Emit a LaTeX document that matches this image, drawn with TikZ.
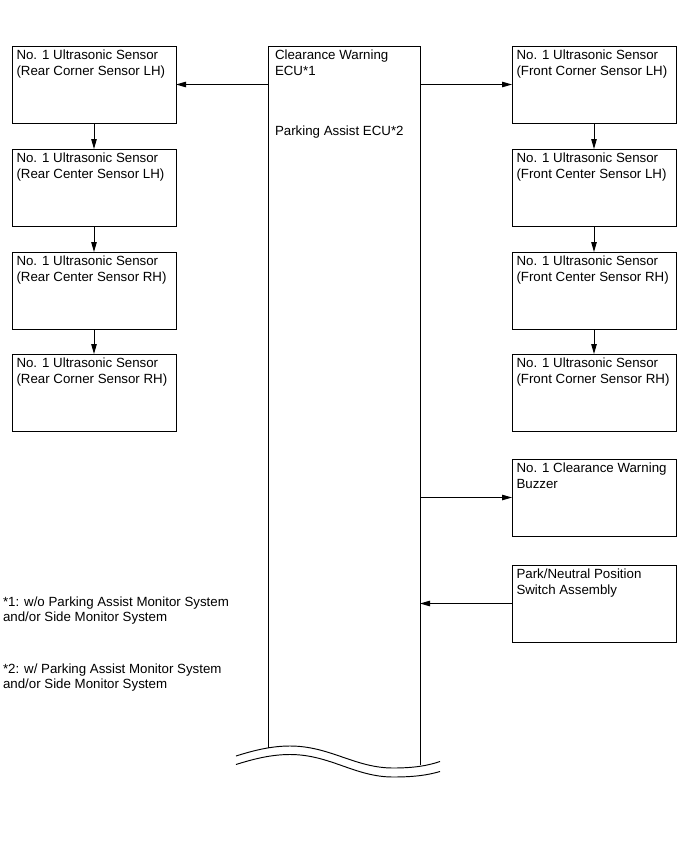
\documentclass[tikz,border=0pt]{standalone}
\usepackage{fontspec}
\setmainfont{Liberation Sans}
\usetikzlibrary{arrows.meta}
\begin{document}
\begin{tikzpicture}[x=1pt,y=-1pt,
  every node/.style={outer sep=0pt},
  txt/.style={font=\fontsize{13.3}{15.7}\selectfont, align=left, inner sep=0pt, anchor=north west},
  unit/.style={draw, line width=0.95pt, minimum width=164pt, minimum height=77pt,
    anchor=north west, inner sep=0pt,
    label={[txt, anchor=north west, inner xsep=4.5pt, inner ysep=4pt]north west:{#1}}},
  link/.style={line width=0.95pt, -{Triangle[length=10pt,width=5.5pt]}},
  wire/.style={line width=0.95pt}
]
\useasboundingbox (0,0) rectangle (691,854);

% rear sensor chain
\node[unit={No. 1 Ultrasonic Sensor\\(Rear Corner Sensor LH)}] (l1) at (12,46) {};
\node[unit={No. 1 Ultrasonic Sensor\\(Rear Center Sensor LH)}] (l2) at (12,149) {};
\node[unit={No. 1 Ultrasonic Sensor\\(Rear Center Sensor RH)}] (l3) at (12,252) {};
\node[unit={No. 1 Ultrasonic Sensor\\(Rear Corner Sensor RH)}] (l4) at (12,354) {};

% front sensor chain
\node[unit={No. 1 Ultrasonic Sensor\\(Front Corner Sensor LH)}] (r1) at (512,46) {};
\node[unit={No. 1 Ultrasonic Sensor\\(Front Center Sensor LH)}] (r2) at (512,149) {};
\node[unit={No. 1 Ultrasonic Sensor\\(Front Center Sensor RH)}] (r3) at (512,252) {};
\node[unit={No. 1 Ultrasonic Sensor\\(Front Corner Sensor RH)}] (r4) at (512,354) {};

% buzzer and park/neutral switch
\node[unit={No. 1 Clearance Warning\\Buzzer}] (bz) at (512,459) {};
\node[unit={Park/Neutral Position\\Switch Assembly}] (pn) at (512,565) {};

% ECU column, open at the bottom
\node[anchor=north west, minimum width=152pt, minimum height=720pt, inner sep=0pt] (ecu) at (268,46) {};
\coordinate (ecuBL) at (268,747.6);
\coordinate (ecuBR) at (420,765);
\draw[wire] (ecuBL) -- (ecu.north west) -- (ecu.north east) -- (ecuBR);
\node[txt] (ecuA) at (275,50) {Clearance Warning\\ECU*1};
\node[txt, anchor=base west] (ecuB) at (275,135) {Parking Assist ECU*2};

% break lines
\draw[wire] (236,756) .. controls (255,750) and (272,746) .. (290,746)
  .. controls (330,746) and (355,768) .. (393,768)
  .. controls (415,768) and (428,765.5) .. (440,761.5);
\draw[wire] (236,764.5) .. controls (255,758.5) and (272,754.5) .. (290,754.5)
  .. controls (330,754.5) and (355,777) .. (393,777)
  .. controls (415,777) and (428,775) .. (440,771.5);

% connectors
\draw[link] (ecu.west |- l1.east) -- (l1.east);
\draw[link] (ecu.east |- r1.west) -- (r1.west);
\draw[link] (l1.south) -- (l2.north);
\draw[link] (l2.south) -- (l3.north);
\draw[link] (l3.south) -- (l4.north);
\draw[link] (r1.south) -- (r2.north);
\draw[link] (r2.south) -- (r3.north);
\draw[link] (r3.south) -- (r4.north);
\draw[link] (ecu.east |- bz.west) -- (bz.west);
\draw[link] (pn.west) -- (ecu.east |- pn.west);

% footnotes
\node[txt] (n1) at (3,596.5) {*1: w/o Parking Assist Monitor System\\and/or Side Monitor System};
\node[txt] (n2) at (3,663.5) {*2: w/ Parking Assist Monitor System\\and/or Side Monitor System};
\end{tikzpicture}
\end{document}
